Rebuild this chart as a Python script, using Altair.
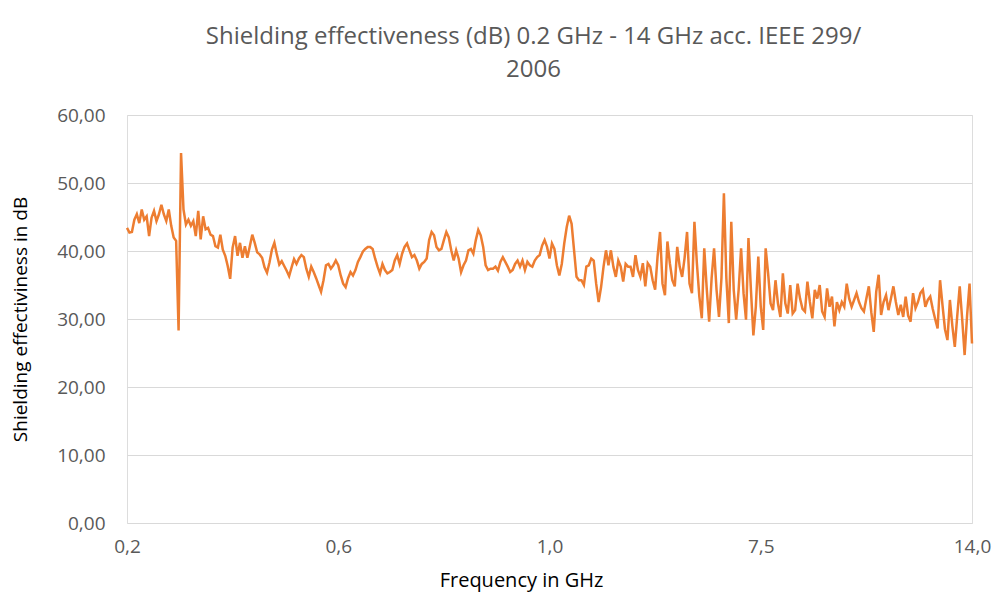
import altair as alt
import pandas as pd

title_lines = ["Shielding effectiveness (dB) 0.2 GHz - 14 GHz  acc. IEEE 299/", "2006"]
y_title = "Shielding effectiviness in dB"
x_title = "Frequency in GHz"
x_tick_labels = ["0,2", "0,6", "1,0", "7,5", "14,0"]
points_per_label = 86

# shielding effectiveness (dB), in order of frequency
se_part1 = [43.4, 42.7, 42.8, 44.6, 45.4, 44.1, 46.1, 44.6, 45.1, 42.2,
            44.9, 45.9, 44.4, 45.4, 46.8, 45.4, 44.4, 46.1, 43.7, 42.0,
            41.5, 28.3, 54.4, 46.1, 43.9, 44.6, 43.7, 44.4, 42.2, 45.9,
            41.7, 45.1, 43.2, 43.4, 42.4, 42.2, 40.7, 40.5, 42.4, 40.2,
            39.3, 37.8, 35.9, 40.5, 42.2, 39.3, 41.2, 39.0, 40.7, 39.0,
            40.7, 42.4, 41.2, 39.8, 39.5, 39.0, 37.6, 36.8, 38.3, 40.2,
            41.2, 39.5, 38.0, 38.5, 37.8, 37.1, 36.3, 37.6, 38.8]
se_part2 = [38.1, 38.9, 39.4, 39.1, 37.4, 36.2, 37.7, 36.9, 36.0, 35.0,
            34.0, 35.7, 37.9, 38.1, 37.4, 37.9, 38.6, 37.9, 36.4, 35.2,
            34.7, 36.0, 36.9, 36.4, 37.2, 38.4, 39.1, 39.9, 40.3, 40.6,
            40.6, 40.3, 38.9, 37.7, 36.7, 38.1, 37.2, 36.7, 36.9, 37.2,
            38.6, 39.4, 38.1, 39.6, 40.6, 41.1, 40.1, 39.1, 39.4, 38.6,
            37.4, 38.1, 38.4, 38.9, 41.6, 42.8, 42.3, 40.6, 40.1, 40.3,
            41.6, 42.8, 42.0, 40.1, 38.6, 40.1, 38.9]
se_part3 = [36.9, 37.9, 38.6, 40.1, 40.3, 39.6, 41.6, 43.1, 42.3, 40.6,
            37.9, 37.2, 37.4, 37.4, 37.7, 37.1, 38.4, 39.1, 38.4, 37.7,
            36.9, 37.2, 38.1, 38.6, 37.7, 38.6, 37.2, 38.4, 37.9, 37.7,
            38.6, 39.1, 39.4, 40.8, 41.6, 40.6, 38.9, 41.1, 40.3, 37.9,
            36.4, 38.1, 41.1, 43.5, 45.2, 44.0, 40.1, 36.2, 35.7, 35.7,
            35.0, 37.7, 37.9, 38.9, 38.6, 35.2, 32.5, 34.7, 37.7, 40.1,
            37.9, 40.1, 37.7, 36.2, 38.6, 37.7, 35.5, 38.1, 37.7]
se_part4 = [37.7, 36.2, 39.4, 37.2, 36.2, 38.2, 34.8, 38.2, 37.7, 35.7,
            34.3, 39.2, 42.8, 35.2, 33.5, 41.4, 38.2, 35.7, 34.8, 40.6,
            37.7, 36.2, 39.0, 42.8, 35.2, 33.8, 44.3, 38.2, 33.3, 30.1,
            40.4, 34.5, 29.6, 36.0, 40.4, 34.3, 30.3, 36.0, 48.5, 36.0,
            29.4, 44.3, 34.3, 29.9, 34.3, 40.4, 33.8, 29.9, 41.9, 34.3,
            27.6, 31.8, 39.2, 31.8, 28.4, 40.4, 36.7, 32.3, 31.3, 35.7,
            32.3, 30.3, 36.7, 32.3, 30.8, 35.0, 30.8, 31.3, 35.2, 33.0,
            31.5]
se_part5 = [31.1, 35.5, 32.5, 30.1, 34.3, 33.0, 35.0, 31.1, 30.3, 34.5,
            31.8, 33.3, 28.9, 32.5, 31.3, 32.5, 31.8, 35.2, 33.0, 31.8,
            32.8, 33.8, 32.5, 31.6, 31.1, 33.0, 34.8, 31.0, 28.1, 34.0,
            36.5, 30.6, 32.5, 33.5, 31.3, 33.0, 34.8, 32.5, 30.6, 32.1,
            30.3, 33.3, 30.5, 29.6, 33.8, 31.6, 32.5, 33.8, 34.3, 31.8,
            32.8, 33.3, 31.5, 30.0, 28.6, 35.7, 32.0, 28.5, 26.9, 32.8,
            29.0, 25.9, 30.5, 34.8, 30.0, 24.7, 30.5, 35.2, 26.4]

values = se_part1 + se_part2 + se_part3 + se_part4 + se_part5
df = pd.DataFrame({"idx": list(range(len(values))), "se": values})

tick_positions = [k * points_per_label for k in range(len(x_tick_labels))]
label_expr = ""
for pos, lab in zip(tick_positions, x_tick_labels):
    label_expr += f"datum.value == {pos} ? '{lab}' : "
label_expr += "''"

FONT = "Open Sans"
GRAY = "#595959"

chart = alt.Chart(df).mark_line(color="#ED7D31", strokeWidth=2.5).encode(
    x=alt.X("idx:Q",
            scale=alt.Scale(domain=[0, len(values) - 1], nice=False, zero=False),
            axis=alt.Axis(values=tick_positions, labelExpr=label_expr, title=x_title,
                          grid=False, domain=False, ticks=False,
                          labelFont=FONT, labelFontSize=19, labelColor=GRAY, labelPadding=14,
                          titleFont=FONT, titleFontSize=20, titleColor="#000000",
                          titleFontWeight="normal", titleX=394, titleY=57,
                          titleBaseline="middle", titleAlign="center",
                          labelFlush=False)),
    y=alt.Y("se:Q",
            scale=alt.Scale(domain=[0, 60], nice=False),
            axis=alt.Axis(values=[0, 10, 20, 30, 40, 50, 60],
                          labelExpr="replace(format(datum.value, '.2f'), '.', ',')",
                          title=y_title, grid=True, gridColor="#d9d9d9", gridWidth=1,
                          domain=False, ticks=False,
                          labelFont=FONT, labelFontSize=19, labelColor=GRAY, labelPadding=22,
                          titleFont=FONT, titleFontSize=19, titleColor="#000000",
                          titleFontWeight="normal", titleX=-107, titleY=204,
                          titleBaseline="middle", titleAlign="center")),
).properties(
    width=845,
    height=408,
    title=alt.TitleParams(text=title_lines, font=FONT, fontSize=24, color=GRAY,
                          fontWeight="normal", anchor="middle", offset=24, lineHeight=33,
                          dx=-16),
    autosize=alt.AutoSizeParams(type="none"),
    padding={"left": 119, "top": 107, "right": 20, "bottom": 70},
).configure_view(stroke=None).configure(background="white")

chart.save("out.html", embed_options={"renderer": "svg", "actions": False})
